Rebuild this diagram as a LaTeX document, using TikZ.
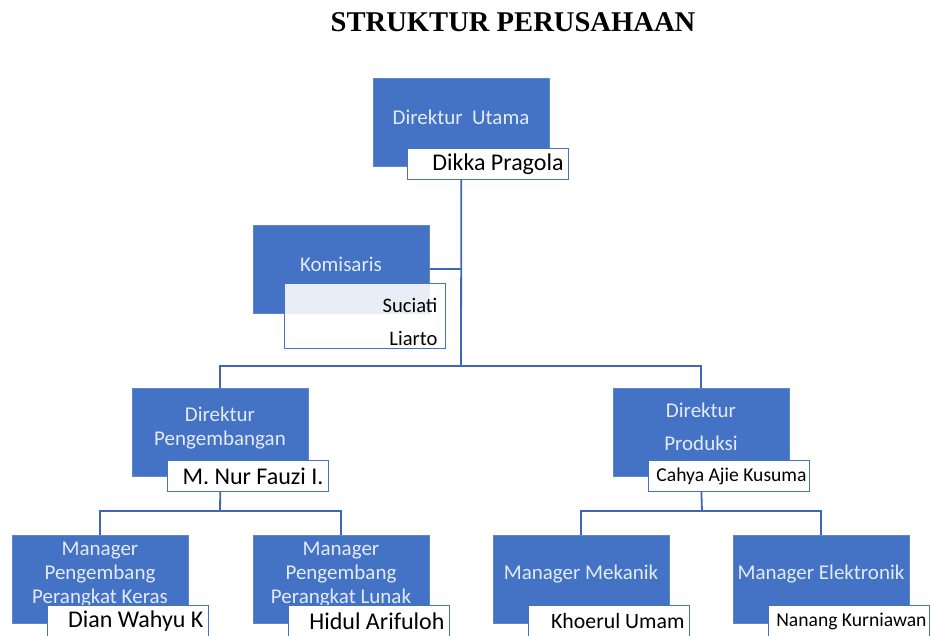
\documentclass[tikz,border=0pt]{standalone}
\usepackage{fontspec}
\setmainfont{Carlito}
\newfontfamily\titlefont{Liberation Serif}
\usetikzlibrary{calc}
\definecolor{boxblue}{HTML}{4472C4}
\definecolor{linkblue}{HTML}{3F67B5}
\definecolor{boxtext}{HTML}{E3EBF7}
\definecolor{tint}{HTML}{E9EDF6}
\begin{document}
\begin{tikzpicture}[x=1pt,y=-1pt,
  bluebox/.style={fill=boxblue, draw=boxblue!85!white, line width=0.6pt,
    minimum width=176pt, minimum height=88pt, anchor=north west, inner sep=0pt},
  namebox/.style={fill=white, draw=boxblue, line width=1pt, text width=151pt,
    align=flush right, inner xsep=5pt, inner ysep=0pt, minimum height=31pt,
    anchor=north west, text=black, font=\fontsize{24}{26}\selectfont},
  smallname/.style={font=\fontsize{19.6}{22}\selectfont, text width=155pt, inner xsep=3pt},
  boxlabel/.style={font=\fontsize{21}{24}\selectfont, text=boxtext, align=center},
  link/.style={draw=linkblue, line width=1.8pt}]
\useasboundingbox (0,0) rectangle (931,635);
\clip (0,0) rectangle (931,635);

\node[font=\titlefont\bfseries\fontsize{28.6}{32}\selectfont] (title) at (513,22) {STRUKTUR PERUSAHAAN};

% blue boxes
\node[bluebox] (du) at (373,78) {};
\node[bluebox] (kom) at (253,225) {};
\node[bluebox] (dp) at (132,388) {};
\node[bluebox] (dpr) at (613,388) {};
\node[bluebox] (m1) at (12,535) {};
\node[bluebox] (m2) at (253,535) {};
\node[bluebox] (m3) at (493,535) {};
\node[bluebox] (m4) at (733,535) {};

% labels
\node[boxlabel] (du-t) at (461,117) {Direktur\ \ Utama};
\node[boxlabel] (kom-t) at (341,264) {Komisaris};
\node[boxlabel] (dp-t) at (220,428) {Direktur\\Pengembangan};
\node[boxlabel] (dpr-t) at (701,427) {Direktur\\[9pt]Produksi};
\node[boxlabel] (m1-t) at (100,575) {Manager\\Pengembang\\Perangkat Keras};
\node[boxlabel] (m2-t) at (341,575) {Manager\\Pengembang\\Perangkat Lunak};
\node[boxlabel] (m3-t) at (581,574) {Manager Mekanik};
\node[boxlabel] (m4-t) at (821,574) {Manager Elektronik};

% connectors
\coordinate (j1) at (461,366);
\coordinate (j2) at (220,511);
\coordinate (j3) at (702,511);
\draw[link] (du.south |- 0,180) -- (j1);
\draw[link] (kom.east) -- (du.south |- kom.east);
\draw[link] (dp.north) |- (j1) -| (dpr.north);
\draw[link] (dp.south |- 0,490) -- (j2);
\draw[link] (m1.north) |- (j2) -| (m2.north);
\draw[link] (dpr.south |- 0,490) -- (j3);
\draw[link] (m3.north) |- (j3) -| (m4.north);

% name boxes
\node[namebox] (du-n) at (407,148) {Dikka Pragola};
\node[namebox, minimum height=65pt] (kom-n) at (284,283) {};
\fill[tint] ([shift={(1,1)}]kom-n.north west) rectangle (kom.south east);
\node[font=\fontsize{20.6}{24}\selectfont, anchor=east] (kom-n1) at (441,305) {Suciati};
\node[font=\fontsize{20.6}{24}\selectfont, anchor=east] (kom-n2) at (441,338) {Liarto};
\node[namebox] (dp-n) at (167,460) {M. Nur Fauzi I.};
\node[namebox, smallname] (dpr-n) at (648,460) {Cahya Ajie Kusuma};
\node[namebox] (m1-n) at (47,605) {Dian Wahyu K};
\node[namebox] (m2-n) at (288,605) {Hidul Arifuloh};
\node[namebox, font=\fontsize{21.8}{24}\selectfont] (m3-n) at (528,605) {Khoerul Umam};
\node[namebox, smallname] (m4-n) at (768,605) {Nanang Kurniawan};
\end{tikzpicture}
\end{document}
